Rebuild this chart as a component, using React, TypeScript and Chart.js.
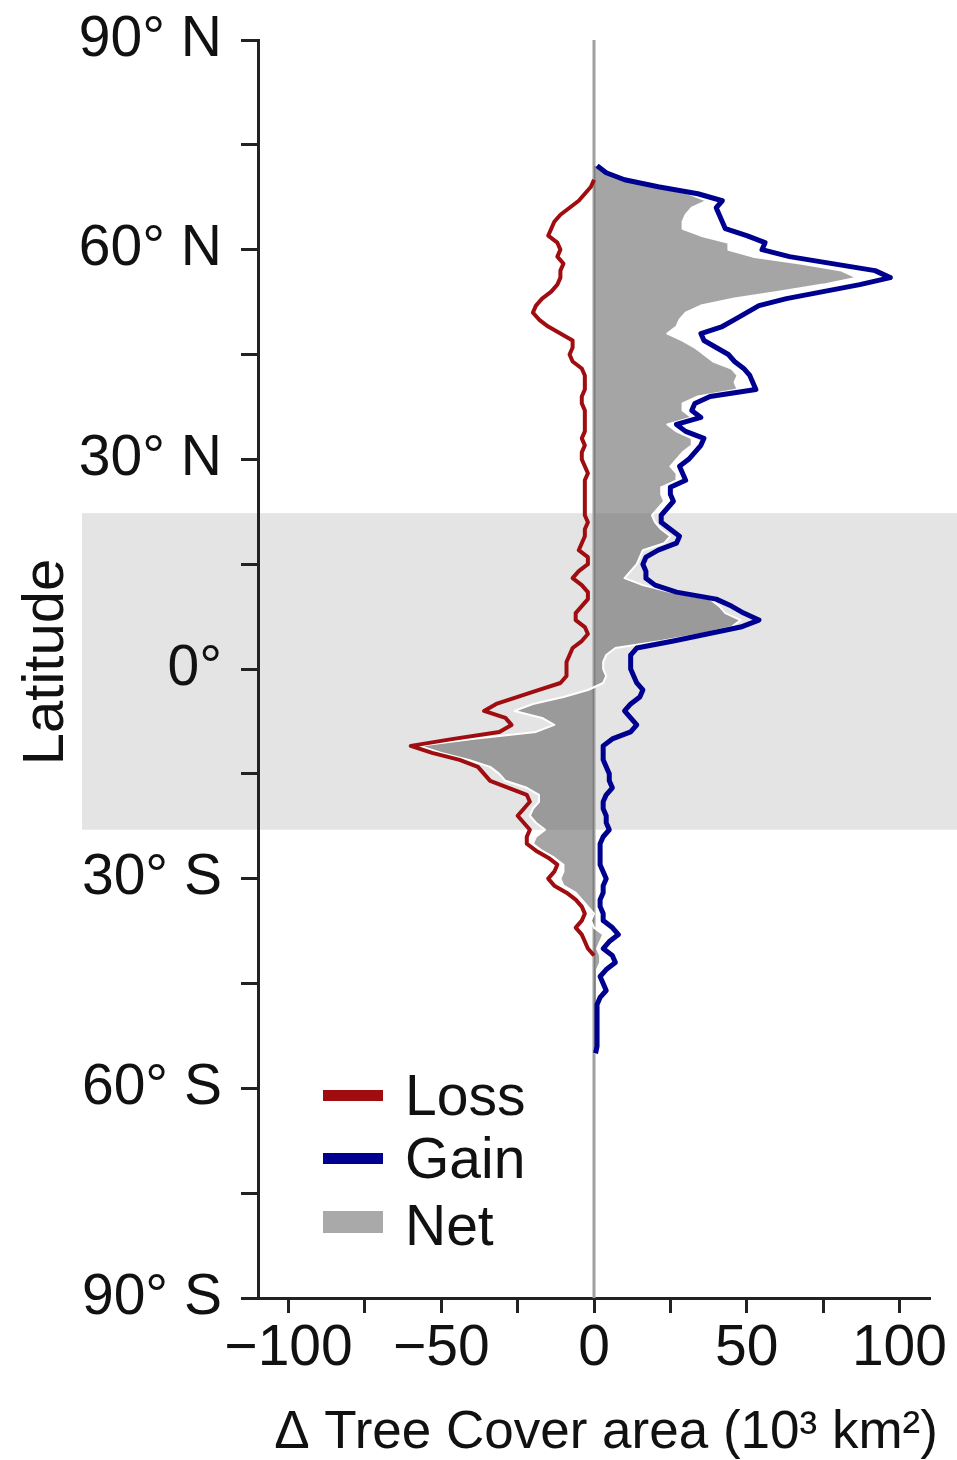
import React, { useEffect, useRef } from 'react';
import { Chart, registerables } from 'chart.js';

Chart.register(...registerables);

// Latitude grid (degrees, north positive)
const LATITUDES = [
  72, 71, 70, 69, 68, 67, 66, 65, 64, 63,
  62, 61, 60, 59, 58, 57, 56, 55, 54, 53,
  52, 51, 50, 49, 48, 47, 46, 45, 44, 43,
  42, 41, 40, 39, 38, 37, 36, 35, 34, 33,
  32, 31, 30, 29, 28, 27, 26, 25, 24, 23,
  22, 21, 20, 19, 18, 17, 16, 15, 14, 13,
  12, 11, 10, 9, 8, 7, 6, 5, 4, 3,
  2, 1, 0, -1, -2, -3, -4, -5, -6, -7,
  -8, -9, -10, -11, -12, -13, -14, -15, -16, -17,
  -18, -19, -20, -21, -22, -23, -24, -25, -26, -27,
  -28, -29, -30, -31, -32, -33, -34, -35, -36, -37,
  -38, -39, -40, -41, -42, -43, -44, -45, -46, -47,
  -48, -49, -50, -51, -52, -53, -54, -55,
];

// Tree cover gain (10^3 km2)
const GAIN = [
  1, 4, 10, 21, 34, 42, 40, 41, 42, 43,
  50, 56, 55, 64, 78, 92, 97, 87, 75, 63,
  54, 50, 46, 42, 35, 36, 40, 44, 46, 49,
  51, 52, 53, 38, 33, 32, 35, 27, 30, 36,
  35, 33, 31, 28, 29, 30, 25, 25, 26, 24,
  22, 22, 25, 28, 27, 21, 17, 16, 17, 17,
  20, 27, 40, 45, 49, 54, 48, 37, 26, 14,
  12, 12, 12, 13, 14, 16, 15, 12, 10, 12,
  14, 12, 6, 3, 3, 3, 4, 5, 5, 6,
  4, 3, 3, 4, 4, 5, 3, 2, 2, 2,
  2, 3, 4, 3, 3, 2, 2, 3, 3, 6,
  8, 5, 3, 6, 7, 4, 2, 3, 4, 2,
  1, 1, 1, 1, 1, 1, 1, 0.5,
];

// Tree cover loss (10^3 km2), null where no loss is drawn
const LOSS = [
  null, null, 0, -1, -3, -5, -8, -11, -13, -14,
  -15, -12, -11, -12, -10, -11, -11, -12, -14, -17,
  -19, -20, -18, -15, -11, -7, -7, -8, -7, -4,
  -3, -3, -3, -4, -4, -3, -3, -3, -3, -4,
  -3, -4, -4, -3, -2, -3, -3, -3, -3, -3,
  -3, -2, -3, -3, -4, -5, -2, -2, -5, -7,
  -4, -2, -2, -4, -6, -6, -3, -2, -4, -7,
  -8, -9, -9, -9, -11, -18, -25, -32, -36, -29,
  -27, -31, -46, -60, -53, -44, -38, -36, -34, -28,
  -22, -21, -23, -25, -23, -21, -22, -22, -19, -15,
  -12, -13, -15, -13, -9, -6, -4, -3, -4, -6,
  -4, -3, -2, 0, null, null, null, null, null, null,
  null, null, null, null, null, null, null, null,
];

// Net change (10^3 km2)
const NET = [
  1, 4, 10, 20, 31, 37, 32, 30, 29, 29,
  35, 44, 44, 52, 68, 81, 86, 75, 61, 46,
  35, 30, 28, 27, 24, 29, 33, 36, 39, 45,
  47, 46, 47, 34, 29, 29, 32, 24, 27, 32,
  32, 29, 27, 25, 27, 27, 22, 22, 23, 21,
  19, 20, 22, 25, 23, 16, 15, 14, 12, 10,
  16, 25, 38, 41, 43, 48, 45, 35, 22, 7,
  4, 3, 3, 4, 3, -2, -10, -20, -26, -17,
  -13, -19, -40, -57, -50, -41, -34, -31, -29, -22,
  -18, -18, -20, -21, -19, -16, -19, -20, -17, -13,
  -10, -10, -11, -10, -6, -4, -2, 0, -1, 0,
  3, 2, 1, 2, 2, 1, 1, 1, 1, 1,
  1, 1, 1, 1, 1, 1, 1, 0,
];

const SERIES_LABELS = ['Loss', 'Gain', 'Net'];
const X_TICKS = [-100, -75, -50, -25, 0, 25, 50, 75, 100];
const X_LABELED = [-100, -50, 0, 50, 100];
const Y_TICKS = [-90, -75, -60, -45, -30, -15, 0, 15, 30, 45, 60, 75, 90];
const Y_LABELED = [-90, -60, -30, 0, 30, 60, 90];
const TROPIC_BAND = [22.3, -23.0];
const X_TITLE = 'Δ Tree Cover area (10³ km²)';
const Y_TITLE = 'Latitude';

const RED = '#a00d10';
const BLUE = '#000090';
const NET_FILL = 'rgba(105,105,105,0.6)';
const NET_SWATCH = '#a9a9a9';
const AXIS = '#222222';
const TEXT = '#111111';
const FONT = '"Liberation Sans", Arial, Helvetica, sans-serif';

function latLabel(v: number): string {
  if (!Y_LABELED.includes(v)) return '';
  if (v === 0) return '0°';
  return v > 0 ? `${v}° N` : `${-v}° S`;
}

function valLabel(v: number): string {
  if (!X_LABELED.includes(v)) return '';
  return v < 0 ? `\u2212${Math.abs(v)}` : `${v}`;
}

function toPoints(vals: (number | null)[]) {
  const pts: { x: number; y: number }[] = [];
  vals.forEach((v, i) => {
    if (v !== null) pts.push({ x: v, y: LATITUDES[i] });
  });
  return pts;
}

const overlayPlugin = {
  id: 'overlay',
  beforeDraw(chart: any) {
    const { ctx, chartArea, scales } = chart;
    const y1 = scales.y.getPixelForValue(TROPIC_BAND[0]);
    const y2 = scales.y.getPixelForValue(TROPIC_BAND[1]);
    const left = chartArea.left - 176;
    ctx.save();
    ctx.fillStyle = '#e4e4e4';
    ctx.fillRect(left, y1, chart.width - left, y2 - y1);
    ctx.restore();
  },
  beforeDatasetsDraw(chart: any) {
    const { ctx, chartArea, scales } = chart;
    const x0 = scales.x.getPixelForValue(0);
    ctx.save();
    ctx.strokeStyle = '#a0a0a0';
    ctx.lineWidth = 3;
    ctx.beginPath();
    ctx.moveTo(x0, chartArea.top);
    ctx.lineTo(x0, chartArea.bottom);
    ctx.stroke();
    ctx.restore();
  },
  afterDraw(chart: any) {
    const { ctx, chartArea } = chart;
    ctx.save();
    // Legend
    const swX = chartArea.left + 65;
    const txtX = chartArea.left + 147;
    const baselines = [chartArea.bottom - 183, chartArea.bottom - 120, chartArea.bottom - 53];
    const colors = [RED, BLUE, NET_SWATCH];
    SERIES_LABELS.forEach((label, i) => {
      const b = baselines[i];
      ctx.fillStyle = colors[i];
      if (i < 2) ctx.fillRect(swX, b - 25, 60, 11);
      else ctx.fillRect(swX, b - 34, 60, 22);
      ctx.fillStyle = TEXT;
      ctx.font = `57px ${FONT}`;
      ctx.textAlign = 'left';
      ctx.textBaseline = 'alphabetic';
      ctx.fillText(label, txtX, b);
    });
    // X title
    ctx.font = `53px ${FONT}`;
    ctx.textAlign = 'center';
    ctx.fillText(X_TITLE, 606, 1448);
    // Y title
    ctx.translate(63, 662);
    ctx.rotate(-Math.PI / 2);
    ctx.font = `58px ${FONT}`;
    ctx.fillText(Y_TITLE, 0, 0);
    ctx.restore();
  },
};

export default function App() {
  const canvasRef = useRef<HTMLCanvasElement | null>(null);

  useEffect(() => {
    document.body.style.margin = '0';
    const canvas = canvasRef.current;
    if (!canvas) return;
    const chart = new Chart(canvas, {
      type: 'line',
      data: {
        datasets: [
          {
            label: SERIES_LABELS[0],
            data: toPoints(LOSS),
            borderColor: RED,
            borderWidth: 4,
            pointRadius: 0,
            fill: false,
            tension: 0,
          },
          {
            label: SERIES_LABELS[1],
            data: toPoints(GAIN),
            borderColor: BLUE,
            borderWidth: 5,
            pointRadius: 0,
            fill: false,
            tension: 0,
          },
          {
            label: SERIES_LABELS[2],
            data: toPoints(NET),
            borderColor: '#ffffff',
            borderWidth: 2,
            backgroundColor: NET_FILL,
            pointRadius: 0,
            fill: 'origin',
            tension: 0,
          },
        ],
      } as any,
      options: {
        animation: false,
        responsive: false,
        devicePixelRatio: 1,
        indexAxis: 'y',
        layout: { padding: { top: 40, right: 27, left: 0, bottom: 0 } },
        plugins: {
          legend: { display: false },
          tooltip: { enabled: false },
        },
        elements: { point: { radius: 0 }, line: { borderJoinStyle: 'round' } },
        scales: {
          x: {
            type: 'linear',
            position: 'bottom',
            min: -110,
            max: 110,
            afterBuildTicks: (s: any) => {
              s.ticks = X_TICKS.map((v) => ({ value: v }));
            },
            afterFit: (s: any) => {
              s.height = 162;
              s.paddingLeft = 0;
              s.paddingRight = 0;
            },
            grid: {
              drawOnChartArea: false,
              drawTicks: true,
              tickLength: 15,
              tickColor: AXIS,
              tickWidth: 3,
            },
            border: { display: true, color: AXIS, width: 3 },
            ticks: {
              autoSkip: false,
              maxRotation: 0,
              padding: 2,
              color: TEXT,
              font: { size: 57, family: FONT },
              callback: (v: any) => valLabel(Number(v)),
            },
          },
          y: {
            type: 'linear',
            position: 'left',
            min: -90,
            max: 90,
            afterBuildTicks: (s: any) => {
              s.ticks = Y_TICKS.map((v) => ({ value: v }));
            },
            afterFit: (s: any) => {
              s.width = 258;
              s.paddingTop = 0;
              s.paddingBottom = 0;
            },
            grid: {
              drawOnChartArea: false,
              drawTicks: true,
              tickLength: 17,
              tickColor: AXIS,
              tickWidth: 3,
            },
            border: { display: true, color: AXIS, width: 3 },
            ticks: {
              autoSkip: false,
              padding: 19,
              color: TEXT,
              font: { size: 57, family: FONT },
              callback: (v: any) => latLabel(Number(v)),
            },
          },
        },
      } as any,
      plugins: [overlayPlugin],
    });
    return () => chart.destroy();
  }, []);

  return (
    <div style={{ width: 957, height: 1460 }}>
      <canvas ref={canvasRef} width={957} height={1460} style={{ display: 'block' }} />
    </div>
  );
}
